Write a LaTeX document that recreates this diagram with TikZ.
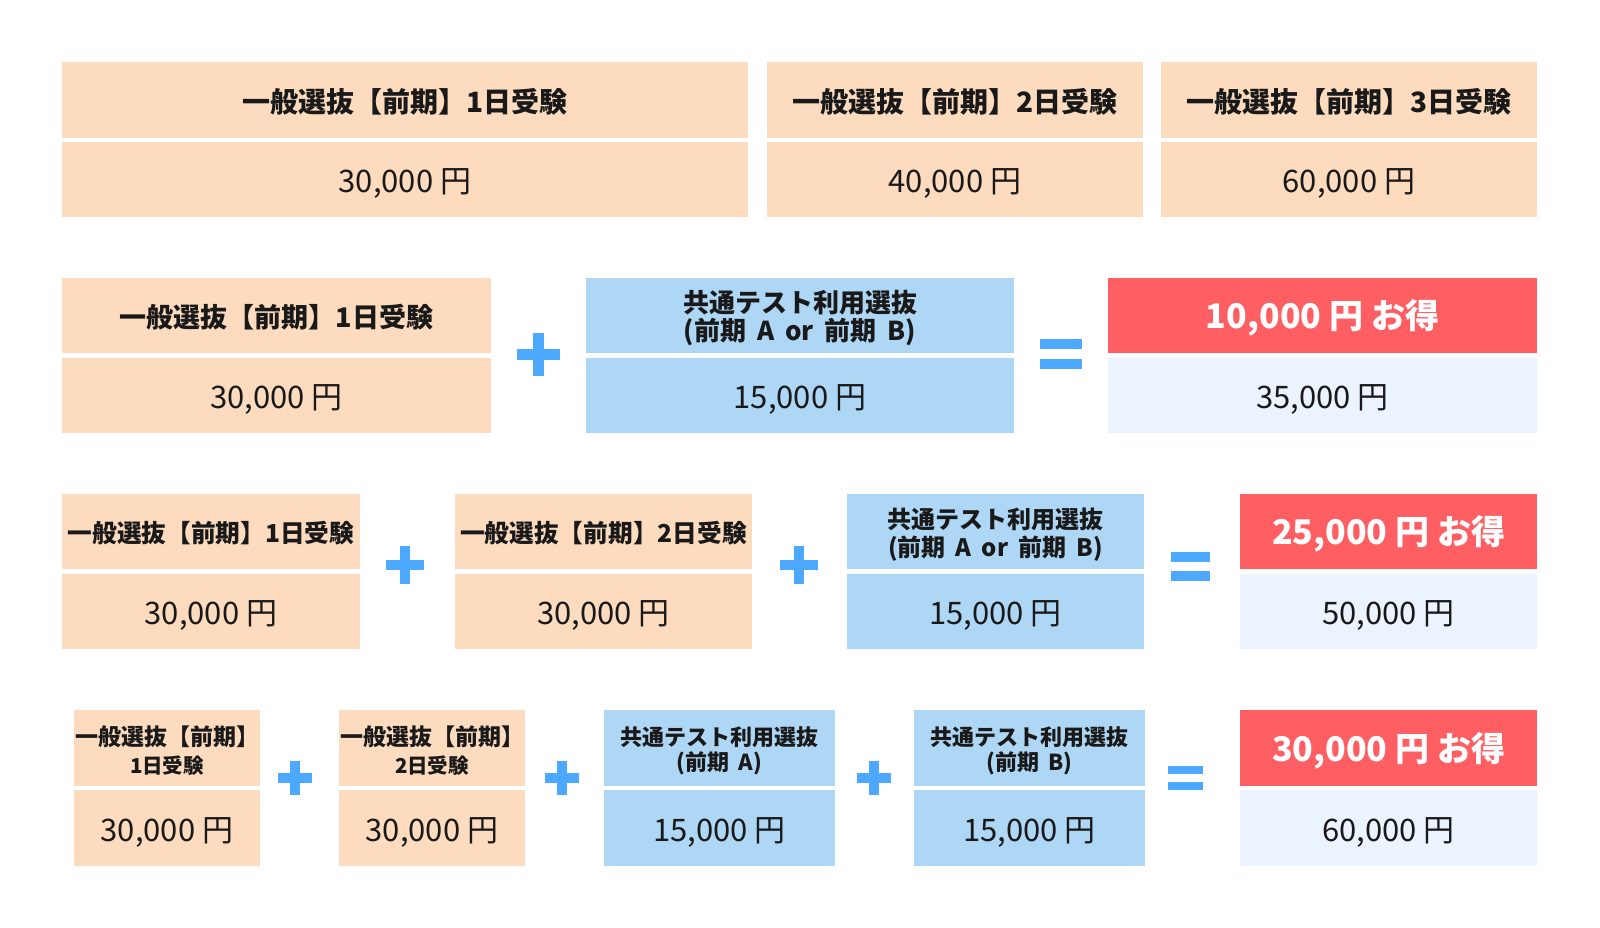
\documentclass[tikz,border=0pt]{standalone}
\usepackage{fontspec}
\setmainfont{Noto Sans CJK JP}
\definecolor{peach}{RGB}{253,219,190}
\definecolor{sky}{RGB}{174,214,245}
\definecolor{redd}{RGB}{255,94,99}
\definecolor{pale}{RGB}{235,244,254}
\definecolor{sym}{RGB}{77,168,255}
\newcommand\wsp{\hspace{0.42em}}
% #1 name, #2-#5 box corners (px), #6 fill style, #7 text style, #8 text
\newcommand\cell[8]{%
  \node[cellbox,#6,minimum width={(#4-#2)*1pt},minimum height={(#5-#3)*1pt}] (#1) at ({(#2+#4)/2},{(#3+#5)/2}) {};
  \node[celltext,#7] (#1t) at ({(#2+#4)/2},{(#3+#5)/2+\tshift}) {#8};}
\newcommand\tshift{0}
\newcommand\plussign[4]{% x y len thick
  \fill[sym] ({#1-#3/2},{#2-#4/2}) rectangle ({#1+#3/2},{#2+#4/2});
  \fill[sym] ({#1-#4/2},{#2-#3/2}) rectangle ({#1+#4/2},{#2+#3/2});}
\newcommand\eqsign[5]{% x y len thick gap
  \fill[sym] ({#1-#3/2},{#2-#5/2-#4}) rectangle ({#1+#3/2},{#2-#5/2});
  \fill[sym] ({#1-#3/2},{#2+#5/2}) rectangle ({#1+#3/2},{#2+#5/2+#4});}
\tikzset{
  cellbox/.style={rectangle,inner sep=0pt,outer sep=0pt},
  celltext/.style={inner sep=0pt,outer sep=0pt,align=center,text=black!90},
  fP/.style={fill=peach}, fS/.style={fill=sky}, fR/.style={fill=redd}, fL/.style={fill=pale},
  hA/.style={font=\fontsize{28}{32}\selectfont\bfseries},
  hA2/.style={font=\fontsize{27}{32}\selectfont\bfseries},
  hB/.style={font=\fontsize{24.7}{28}\selectfont\bfseries},
  hS/.style={font=\fontsize{26}{28.5}\selectfont\bfseries},
  hS3/.style={font=\fontsize{24}{27.5}\selectfont\bfseries},
  hC/.style={font=\fontsize{23}{28}\selectfont\bfseries},
  hCs/.style={font=\fontsize{22}{25}\selectfont\bfseries},
  pr/.style={font=\fontsize{31}{34}\selectfont},
  hR/.style={text=white,font=\fontsize{34}{38}\selectfont\bfseries},
}
\begin{document}
\begin{tikzpicture}[x=1pt,y=-1pt]
\useasboundingbox (0,0) rectangle (1600,928);
% Row 1
\renewcommand\tshift{1.5}
\cell{a1h}{62}{62}{748}{138}{fP}{hA}{一般選抜【前期】1日受験}
\cell{a2h}{767}{62}{1143}{138}{fP}{hA}{一般選抜【前期】2日受験}
\cell{a3h}{1161}{62}{1537}{138}{fP}{hA}{一般選抜【前期】3日受験}
\renewcommand\tshift{4}
\cell{a1p}{62}{142}{748}{217}{fP}{pr}{30,000 円}
\cell{a2p}{767}{142}{1143}{217}{fP}{pr}{40,000 円}
\cell{a3p}{1161}{142}{1537}{217}{fP}{pr}{60,000 円}
% Row 2
\renewcommand\tshift{1.5}
\cell{b1h}{62}{278}{491}{353}{fP}{hA2}{一般選抜【前期】1日受験}
\renewcommand\tshift{2.5}
\cell{b2h}{586}{278}{1014}{353}{fS}{hS}{共通テスト利用選抜\\(前期\wsp A\wsp or\wsp 前期\wsp B)}
\cell{b3h}{1108}{278}{1537}{353}{fR}{hR}{10,000 円 お得}
\renewcommand\tshift{4}
\cell{b1p}{62}{358}{491}{433}{fP}{pr}{30,000 円}
\cell{b2p}{586}{358}{1014}{433}{fS}{pr}{15,000 円}
\cell{b3p}{1108}{358}{1537}{433}{fL}{pr}{35,000 円}
\plussign{538}{354}{43}{11}
\eqsign{1061}{354}{42}{10}{10}
% Row 3
\renewcommand\tshift{2}
\cell{c1h}{62}{494}{360}{569}{fP}{hB}{一般選抜【前期】1日受験}
\cell{c2h}{455}{494}{752}{569}{fP}{hB}{一般選抜【前期】2日受験}
\renewcommand\tshift{3}
\cell{c3h}{847}{494}{1144}{569}{fS}{hS3}{共通テスト利用選抜\\(前期\wsp A\wsp or\wsp 前期\wsp B)}
\renewcommand\tshift{2.5}
\cell{c4h}{1240}{494}{1537}{569}{fR}{hR}{25,000 円 お得}
\renewcommand\tshift{4}
\cell{c1p}{62}{574}{360}{649}{fP}{pr}{30,000 円}
\cell{c2p}{455}{574}{752}{649}{fP}{pr}{30,000 円}
\cell{c3p}{847}{574}{1144}{649}{fS}{pr}{15,000 円}
\cell{c4p}{1240}{574}{1537}{649}{fL}{pr}{50,000 円}
\plussign{405}{565}{38}{10.5}
\plussign{799}{565}{38}{10.5}
\eqsign{1190}{566}{39}{10}{9}
% Row 4
\renewcommand\tshift{3}
\cell{d1h}{74}{710}{260}{786}{fP}{hC}{一般選抜【前期】\\{\fontsize{20.5}{22}\selectfont 1日受験}}
\cell{d2h}{339}{710}{525}{786}{fP}{hC}{一般選抜【前期】\\{\fontsize{20.5}{22}\selectfont 2日受験}}
\cell{d3h}{604}{710}{835}{786}{fS}{hCs}{共通テスト利用選抜\\(前期\wsp A)}
\cell{d4h}{914}{710}{1145}{786}{fS}{hCs}{共通テスト利用選抜\\(前期\wsp B)}
\renewcommand\tshift{2.5}
\cell{d5h}{1240}{710}{1537}{786}{fR}{hR}{30,000 円 お得}
\renewcommand\tshift{4}
\cell{d1p}{74}{790}{260}{866}{fP}{pr}{30,000 円}
\cell{d2p}{339}{790}{525}{866}{fP}{pr}{30,000 円}
\cell{d3p}{604}{790}{835}{866}{fS}{pr}{15,000 円}
\cell{d4p}{914}{790}{1145}{866}{fS}{pr}{15,000 円}
\cell{d5p}{1240}{790}{1537}{866}{fL}{pr}{60,000 円}
\plussign{295}{778}{34}{10}
\plussign{562}{778}{34}{10}
\plussign{874}{778}{34}{10}
\eqsign{1185}{778}{35}{8}{8}
\end{tikzpicture}
\end{document}
